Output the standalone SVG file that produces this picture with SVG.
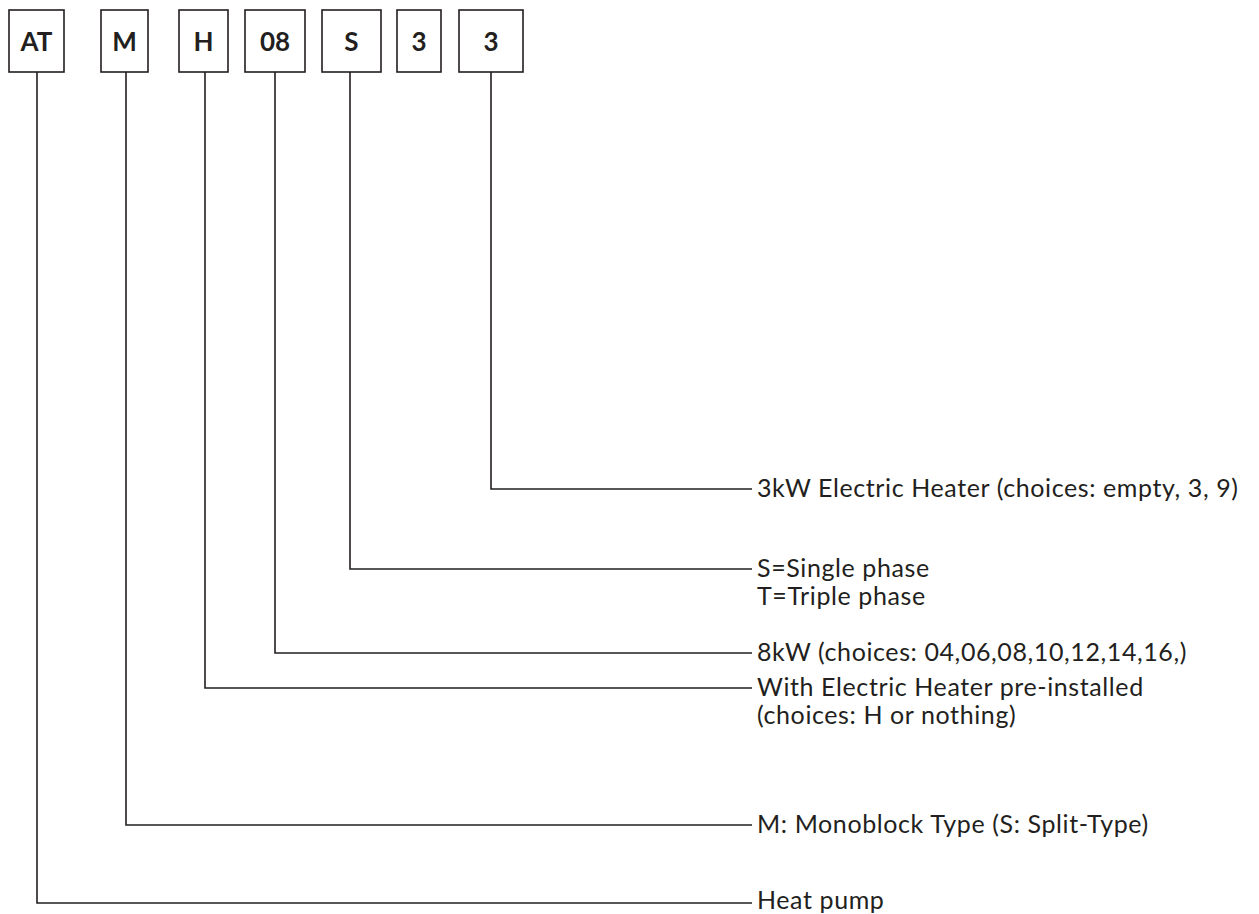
<svg xmlns="http://www.w3.org/2000/svg" width="1259" height="914" viewBox="0 0 1259 914">
<style>
.box{fill:#fff;stroke:#231f20;stroke-width:1.6}
.code{font-family:Lato,"Open Sans",sans-serif;font-weight:bold;font-size:26px;fill:#231f20;text-anchor:middle}
.lbl{font-family:Lato,"Open Sans",sans-serif;font-size:25px;letter-spacing:0.6px;fill:#231f20}
.con{fill:none;stroke:#231f20;stroke-width:1.6}
</style>
<rect width="1259" height="914" fill="#fff"/>
<g id="node-AT"><rect class="box" x="9" y="10" width="55" height="62"/><text class="code" x="36.5" y="51">AT</text></g>
<g id="node-M"><rect class="box" x="101" y="10" width="47" height="62"/><text class="code" x="124.5" y="51">M</text></g>
<g id="node-H"><rect class="box" x="179" y="10" width="49" height="62"/><text class="code" x="203.5" y="51">H</text></g>
<g id="node-08"><rect class="box" x="245" y="10" width="60" height="62"/><text class="code" x="275" y="51">08</text></g>
<g id="node-S"><rect class="box" x="322" y="10" width="59" height="62"/><text class="code" x="351.5" y="51">S</text></g>
<g id="node-3a"><rect class="box" x="397" y="10" width="44" height="62"/><text class="code" x="419" y="51">3</text></g>
<g id="node-3b"><rect class="box" x="459" y="10" width="64" height="62"/><text class="code" x="491" y="51">3</text></g>
<g id="connectors">
<polyline class="con" points="491,72 491,489 752,489"/>
<polyline class="con" points="350,72 350,569 752,569"/>
<polyline class="con" points="275,72 275,653 752,653"/>
<polyline class="con" points="205,72 205,688 752,688"/>
<polyline class="con" points="126,72 126,825 752,825"/>
<polyline class="con" points="37,72 37,903 752,903"/>
</g>
<g id="labels">
<text class="lbl" x="757" y="497">3kW Electric Heater (choices: empty, 3, 9)</text>
<text class="lbl" x="757" y="577">S=Single phase</text>
<text class="lbl" x="757" y="605">T=Triple phase</text>
<text class="lbl" x="757" y="661">8kW (choices: 04,06,08,10,12,14,16,)</text>
<text class="lbl" x="757" y="696">With Electric Heater pre-installed</text>
<text class="lbl" x="757" y="724">(choices: H or nothing)</text>
<text class="lbl" x="757" y="833">M: Monoblock Type (S: Split-Type)</text>
<text class="lbl" x="757" y="909">Heat pump</text>
</g>
</svg>
